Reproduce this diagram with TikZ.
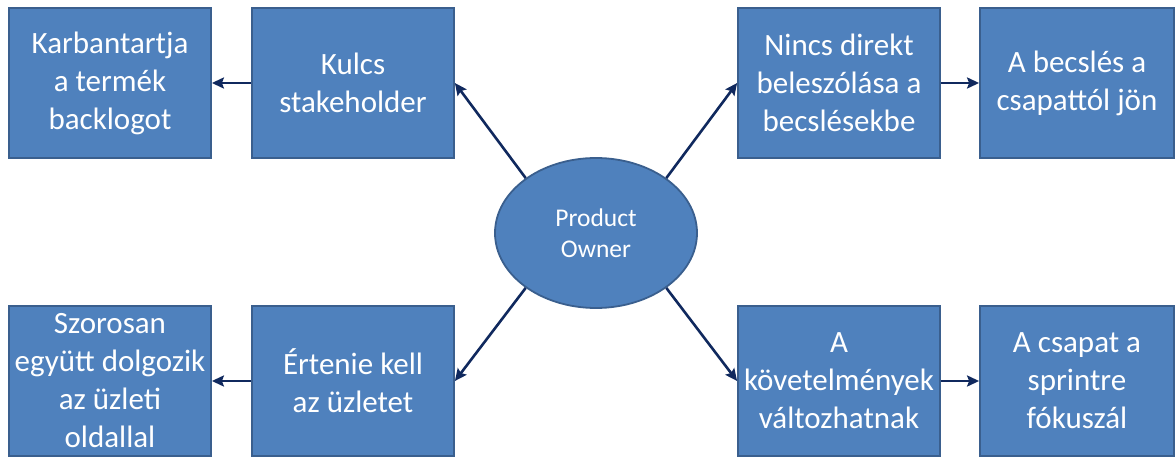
\documentclass[tikz,border=0pt]{standalone}
\usepackage{fontspec}
\setmainfont{Carlito}
\usetikzlibrary{shapes.geometric,arrows.meta}
\definecolor{pofill}{HTML}{4F81BD}
\definecolor{poedge}{HTML}{3A5F8E}
\definecolor{poarrow}{HTML}{10295E}

\begin{document}
\begin{tikzpicture}[x=1pt, y=-1pt,
  box/.style={draw=poedge, line width=1.8pt, fill=pofill, text=white,
    minimum width=202pt, minimum height=150pt, inner sep=0pt, align=center,
    font=\fontsize{31}{38}\selectfont},
  owner/.style={ellipse, draw=poedge, line width=1.8pt, fill=pofill, text=white,
    minimum width=202pt, minimum height=150pt, inner sep=0pt, align=center,
    font=\fontsize{25.5}{30.5}\selectfont},
  link/.style={draw=poarrow, line width=2.6pt,
    -{Stealth[length=12pt, width=11pt, inset=2pt]}}]
\useasboundingbox (0,0) rectangle (1176,457);

\node [owner] (po) at (596, 233) {Product\\Owner};

\node [box] (kulcs) at (353, 83) {Kulcs\\stakeholder};
\node [box] (backlog) at (110, 83) {Karbantartja\\a termék\\backlogot};
\node [box] (nincs) at (839, 83) {Nincs direkt\\beleszólása a\\becslésekbe};
\node [box, minimum width=194pt] (becsles) at (1077, 83) {A becslés a\\csapattól jön};

\node [box] (ertenie) at (353, 381) {Értenie kell\\az üzletet};
\node [box] (szorosan) at (110, 381) {Szorosan\\együtt dolgozik\\az üzleti\\oldallal};
\node [box] (kovetel) at (839, 381) {A\\követelmények\\változhatnak};
\node [box, minimum width=194pt] (sprint) at (1077, 381) {A csapat a\\sprintre\\fókuszál};

\draw [link] (po.142) -- (kulcs.east);
\draw [link] (po.38) -- (nincs.west);
\draw [link] (po.218) -- (ertenie.east);
\draw [link] (po.-38) -- (kovetel.west);

\draw [link] (kulcs) -- (backlog);
\draw [link] (nincs) -- (becsles);
\draw [link] (ertenie) -- (szorosan);
\draw [link] (kovetel) -- (sprint);
\end{tikzpicture}
\end{document}
